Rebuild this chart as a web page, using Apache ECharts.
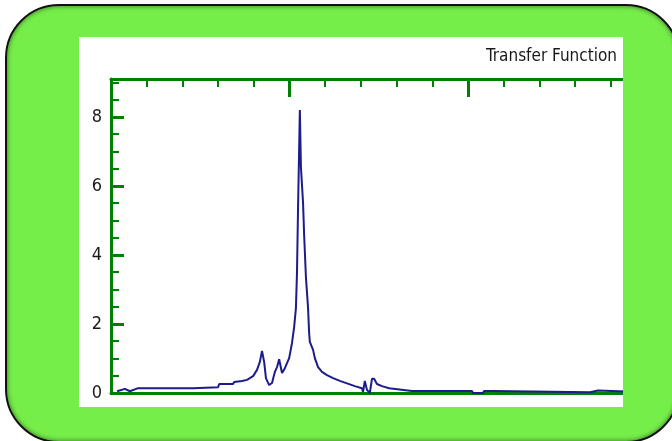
<!DOCTYPE html>
<html>
<head>
<meta charset="utf-8">
<script src="https://cdn.jsdelivr.net/npm/echarts@6/dist/echarts.min.js"></script>
<style>
html, body { margin: 0; padding: 0; background: #fff; width: 672px; height: 441px; overflow: hidden; }
#frame {
    position: absolute; left: 5px; top: 4px; width: 671px; height: 435px;
    background: #76ee4a; border: 2px solid #111; border-radius: 54px;
    box-shadow: inset 0 0 5px rgba(0,0,0,0.55);
}
#panel {
    position: absolute; left: 79px; top: 37px; width: 544px; height: 370px;
    background: #fff; overflow: hidden;
}
#tf { position: absolute; left: 0; top: 0; width: 600px; height: 370px; }
</style>
</head>
<body>
<div id="frame"></div>
<div id="panel"><div id="tf"></div></div>
<script>
// frequency (x) and magnitude (y)
var freq = [1.7, 3.9, 5.3, 7.6, 23.0, 23.2, 30.0, 30.3, 34.2, 34.5, 36.7, 38.1, 39.8, 40.9, 41.7, 42.3, 42.9, 43.4, 44.3, 45.1,
    45.9, 46.5, 47.1, 47.9, 48.7, 49.9, 50.7, 51.3, 51.8, 52.1, 52.4, 52.9, 53.2, 53.8, 54.1, 54.6, 55.2, 55.5, 55.7, 56.6,
    57.1, 58.0, 59.1, 60.5, 62.2, 64.1, 66.1, 68.3, 70.3, 70.6, 71.1, 71.7, 72.5, 73.1, 73.7, 74.5, 75.9, 77.9, 84.3, 101.1,
    101.4, 104.2, 104.5, 107.3, 107.6, 134.2, 134.5, 136.4, 136.7, 150];
var mag = [0.05, 0.12, 0.05, 0.14, 0.14, 0.17, 0.17, 0.26, 0.26, 0.32, 0.35, 0.38, 0.49, 0.67, 0.9, 1.22, 0.9, 0.43, 0.23, 0.29,
    0.61, 0.75, 0.98, 0.58, 0.72, 1.01, 1.45, 1.91, 2.46, 3.5, 5.39, 8.2, 6.55, 5.5, 4.58, 3.36, 2.46, 1.74, 1.48, 1.25,
    1.01, 0.75, 0.61, 0.52, 0.43, 0.35, 0.28, 0.2, 0.14, 0.03, 0.35, 0.09, 0.0, 0.41, 0.41, 0.26, 0.2, 0.14, 0.06, 0.06,
    0.0, 0.0, 0.06, 0.06, 0.02, 0.02, 0.07, 0.07, 0.02, 0.02];
var yTicks = [0, 2, 4, 6, 8];

var green = '#008000';
var narrow = '"DejaVu Sans Condensed", "Liberation Sans Narrow", sans-serif';
var chart = echarts.init(document.getElementById('tf'));

var pts = [];
for (var i = 0; i < freq.length; i++) pts.push([freq[i], mag[i]]);

function xAx(pos, iv, len, w, line) {
    return {
        type: 'value', position: pos, min: 0, max: 150, interval: iv,
        axisLine: { show: line, onZero: false, lineStyle: { color: green, width: 3 } },
        axisTick: { show: len > 0, inside: true, length: len, lineStyle: { color: green, width: w } },
        axisLabel: { show: false }, splitLine: { show: false }
    };
}

chart.setOption({
    animation: false,
    title: {
        text: 'Transfer Function', right: 57, top: 6,
        textStyle: { fontFamily: narrow, fontSize: 17, fontWeight: 'normal', color: '#1a1a1a' }
    },
    grid: { left: 32, top: 42, bottom: 14, right: 32.5 },
    xAxis: [
        xAx('bottom', 10, 0, 2, true),
        xAx('top', 10, 8, 2, true),
        xAx('top', 50, 18, 3, false)
    ],
    yAxis: [
        {
            type: 'value', min: 0, max: 9.1, interval: 2,
            axisLine: { show: true, onZero: false, lineStyle: { color: green, width: 3 } },
            axisTick: { inside: true, length: 13, lineStyle: { color: green, width: 3 } },
            axisLabel: {
                margin: 9, showMaxLabel: false, color: '#1a1a1a', fontSize: 18, fontFamily: narrow,
                formatter: function (v) { return yTicks.indexOf(v) >= 0 ? String(v) : ''; }
            },
            splitLine: { show: false }
        },
        {
            type: 'value', min: 0, max: 9.1, interval: 0.5, position: 'left',
            axisLine: { show: false, onZero: false },
            axisTick: { inside: true, length: 8, lineStyle: { color: green, width: 2 } },
            axisLabel: { show: false }, splitLine: { show: false }
        }
    ],
    series: [{
        type: 'line', data: pts, xAxisIndex: 0, yAxisIndex: 0,
        showSymbol: false, symbol: 'none',
        lineStyle: { color: '#1c1c8c', width: 2 }
    }]
});
</script>
</body>
</html>
